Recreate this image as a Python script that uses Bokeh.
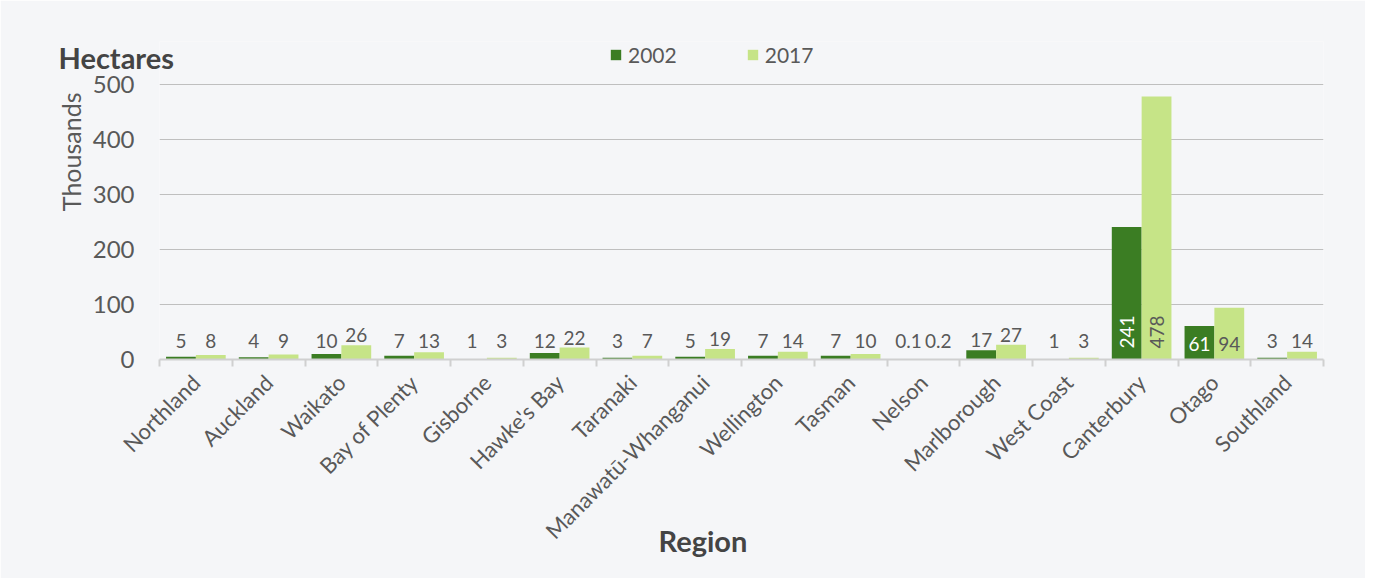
import math
import numpy as np
from bokeh.plotting import figure
from bokeh.models import FixedTicker, Legend, LegendItem, Range1d, Title
from bokeh.core.properties import value
from bokeh.embed import file_html
from bokeh.resources import INLINE

regions = ["Northland", "Auckland", "Waikato", "Bay of Plenty", "Gisborne", "Hawke's Bay",
           "Taranaki", "Manawatū-Whanganui", "Wellington", "Tasman", "Nelson", "Marlborough",
           "West Coast", "Canterbury", "Otago", "Southland"]
v2002 = [5, 4, 10, 7, 1, 12, 3, 5, 7, 7, 0.1, 17, 1, 241, 61, 3]
v2017 = [8, 9, 26, 13, 3, 22, 7, 19, 14, 10, 0.2, 27, 3, 478, 94, 14]
years = ["2002", "2017"]
y_ticks = [0, 100, 200, 300, 400, 500]

BG = "#f5f6f8"
DARK = "#3b7d23"
LIGHT = "#c6e487"
TXT = "#595959"
TITLE = "#444444"
FONT = "Lato"

n = len(regions)
centers = np.arange(n) + 0.5
bounds = list(range(n + 1))
W = 0.41

# layout (pixels): frame top at 41 (room for legend), 500 gridline at 84, zero line at 359
FRAME_TOP, GRID_TOP, ZERO = 41, 84, 359
px_per_unit = (ZERO - GRID_TOP) / y_ticks[-1]
y_top = y_ticks[-1] + (GRID_TOP - FRAME_TOP) / px_per_unit

def fmt(v):
    return ("%g" % v)

p = figure(width=1365, height=578, x_range=Range1d(0, n), y_range=Range1d(0, y_top),
           output_backend="svg", toolbar_location=None,
           min_border_left=159, min_border_right=42, min_border_top=FRAME_TOP,
           min_border_bottom=578 - ZERO,
           background_fill_color=BG, border_fill_color=BG, outline_line_color=None)

r1 = p.vbar(x=centers - W / 2, top=v2002, width=W, fill_color=DARK, line_color=None)
r2 = p.vbar(x=centers + W / 2, top=v2017, width=W, fill_color=LIGHT, line_color=None)

p.xgrid.visible = False
p.ygrid.ticker = FixedTicker(ticks=y_ticks[1:])
p.ygrid.grid_line_color = "#bfbfbf"
p.ygrid.grid_line_width = 1

p.yaxis.ticker = FixedTicker(ticks=y_ticks)
p.yaxis.axis_line_color = None
p.yaxis.major_tick_line_color = None
p.yaxis.major_tick_out = 0
p.yaxis.minor_tick_line_color = None
p.yaxis.major_label_text_font = FONT
p.yaxis.major_label_text_font_size = "24px"
p.yaxis.major_label_text_color = TXT
p.yaxis.major_label_standoff = 25

p.xaxis.ticker = FixedTicker(ticks=list(centers), minor_ticks=bounds)
p.xaxis.major_label_overrides = {float(c): r for c, r in zip(centers, regions)}
p.xaxis.major_tick_line_color = None
p.xaxis.minor_tick_line_color = "#d0d0d0"
p.xaxis.minor_tick_line_width = 2
p.xaxis.minor_tick_in = 0
p.xaxis.minor_tick_out = 7
p.xaxis.axis_line_color = "#d0d0d0"
p.xaxis.axis_line_width = 2
p.xaxis.major_label_orientation = math.pi / 4
p.xaxis.major_label_text_font = FONT
p.xaxis.major_label_text_font_size = "22px"
p.xaxis.major_label_text_color = TXT
p.xaxis.major_label_standoff = 12

# data labels
out_x, out_y, out_t = [], [], []
rot_x, rot_y, rot_t, rot_c = [], [], [], []
in_x, in_y, in_t, in_c = [], [], [], []
for xs, vals, col in ((centers - W / 2, v2002, "white"), (centers + W / 2, v2017, TXT)):
    for x, v in zip(xs, vals):
        if v >= 200:
            rot_x.append(x); rot_y.append(20); rot_t.append(fmt(v)); rot_c.append(col)
        elif v >= 50:
            in_x.append(x); in_y.append(29); in_t.append(fmt(v)); in_c.append(col)
        else:
            out_x.append(x); out_y.append(max(v + 18, 33)); out_t.append(fmt(v))

p.text(x=out_x, y=out_y, text=out_t, text_align="center", text_baseline="middle",
       text_font=value(FONT), text_font_size="19px", text_color=TXT)
p.text(x=rot_x, y=rot_y, text=rot_t, text_align="left", text_baseline="middle", angle=math.pi / 2,
       text_font=value(FONT), text_font_size="19px", text_color=rot_c)
p.text(x=in_x, y=in_y, text=in_t, text_align="center", text_baseline="middle",
       text_font=value(FONT), text_font_size="19px", text_color=in_c)

# legend inside the (extended) frame, above the 500 line
legend = Legend(items=[LegendItem(label=years[0], renderers=[r1]),
                       LegendItem(label=years[1], renderers=[r2])],
                orientation="horizontal", location=(450, ZERO - 67),
                glyph_width=13, glyph_height=13, label_standoff=6, spacing=69,
                padding=0, margin=0, background_fill_alpha=0, border_line_alpha=0,
                label_text_font=FONT, label_text_font_size="21px", label_text_color=TXT)
p.add_layout(legend)

# unit title (top-left, overlapping the axis area)
p.title.text = "Hectares"
p.title.align = "left"
p.title.offset = 58 - 159
p.title.vertical_align = "bottom"
p.title.standoff = 2 * (FRAME_TOP - 74)
p.title.text_font = FONT
p.title.text_font_size = "29px"
p.title.text_font_style = "bold"
p.title.text_color = TITLE

p.add_layout(Title(text="Thousands", align="right", offset=92 - FRAME_TOP, standoff=8,
                   text_font=FONT, text_font_size="25px", text_font_style="normal",
                   text_color=TXT), "left")
p.add_layout(Title(text="Region", align="left", offset=658 - 159, vertical_align="top",
                   standoff=-68, text_font=FONT, text_font_size="29px",
                   text_font_style="bold", text_color=TITLE), "below")

open("out.html", "w").write(file_html(p, INLINE))
